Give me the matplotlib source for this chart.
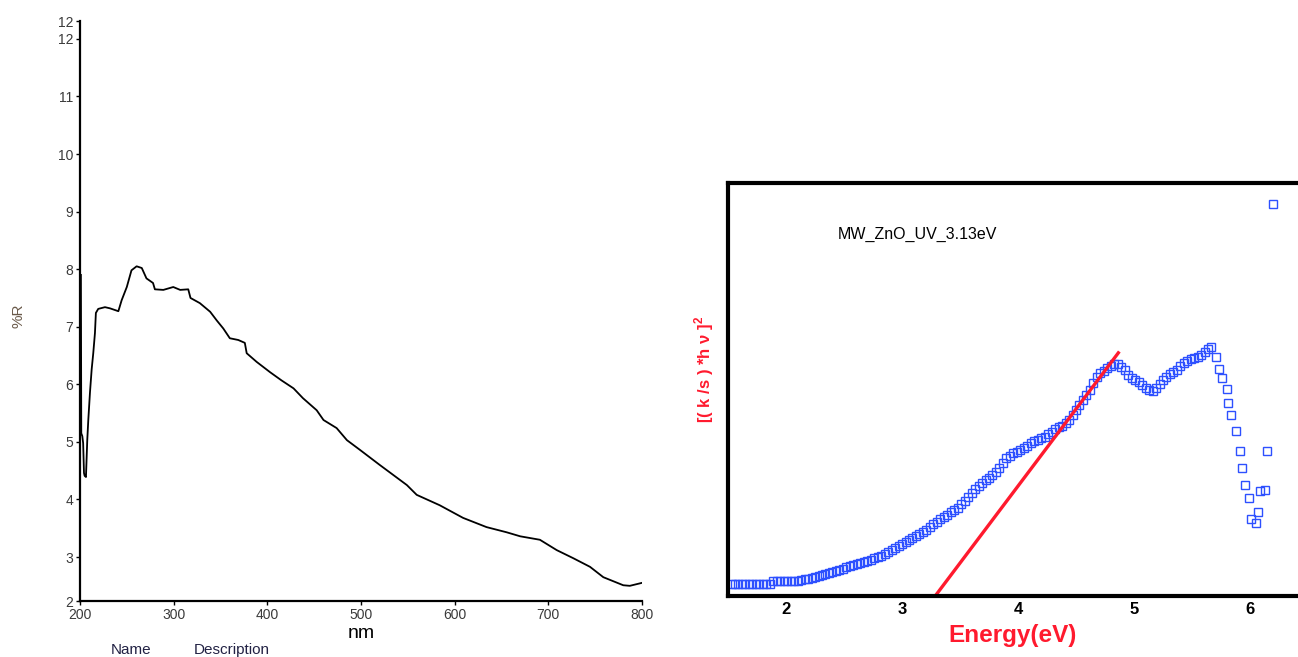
import matplotlib.pyplot as plt

plt.rcParams['font.family'] = ['Liberation Sans', 'DejaVu Sans']
plt.rcParams['mathtext.fontset'] = 'custom'
plt.rcParams['mathtext.rm'] = 'Liberation Sans:bold'
plt.rcParams['mathtext.bf'] = 'Liberation Sans:bold'

# Reflectance spectrum (%R vs wavelength)
wavelength_nm = [201, 201.4, 202.5, 203.4, 204.3, 205, 206.4, 207.8, 208.9, 210.7, 212.5, 214.2,
                 216, 217, 219.5, 226.7, 232, 241, 244.5, 250, 255, 260.5, 266, 271,
                 278, 280, 289, 299.6, 307, 315.6, 318, 328, 339, 346, 353, 360, 369,
                 376, 378, 388.6, 403, 415, 428, 438, 452.7, 460, 474, 485, 499, 520,
                 549, 559.5, 584, 609, 634, 655.5, 670, 691, 709, 726.6, 744.5, 758.7,
                 780, 787, 799.6]
reflectance = [7.9, 5.15, 5.1, 4.98, 4.46, 4.41, 4.39, 5.03, 5.38, 5.86, 6.26, 6.54,
               6.89, 7.24, 7.31, 7.34, 7.32, 7.27, 7.46, 7.69, 7.98, 8.05, 8.02, 7.84,
               7.76, 7.65, 7.64, 7.69, 7.64, 7.65, 7.5, 7.41, 7.26, 7.11, 6.97, 6.8, 6.77,
               6.72, 6.54, 6.39, 6.21, 6.07, 5.93, 5.76, 5.55, 5.38, 5.24, 5.03, 4.86, 4.6,
               4.25, 4.08, 3.9, 3.68, 3.52, 3.43, 3.36, 3.3, 3.12, 2.98, 2.83, 2.65,
               2.51, 2.5, 2.55]
r_ticks = [2.236, 3, 4, 5, 6, 7, 8, 9, 10, 11, 12, 12.31]
r_tick_labels = ['2', '3', '4', '5', '6', '7', '8', '9', '10', '11', '12', '12']
nm_ticks = [200, 300, 400, 500, 600, 700, 800]

# Tauc plot: [(k/s)*hv]^2 vs photon energy
energy_ev = [1.53, 1.56, 1.59, 1.62, 1.65, 1.68, 1.71, 1.74, 1.77, 1.80, 1.83, 1.86,
             1.89, 1.92, 1.95, 1.98, 2.01, 2.04, 2.07, 2.10, 2.13, 2.16, 2.19, 2.22,
             2.25, 2.28, 2.31, 2.34, 2.37, 2.40, 2.43, 2.46, 2.49, 2.52, 2.55, 2.58,
             2.61, 2.64, 2.67, 2.70, 2.73, 2.76, 2.79, 2.82, 2.85, 2.88, 2.91, 2.94,
             2.97, 3.00, 3.03, 3.06, 3.09, 3.12, 3.15, 3.18, 3.21, 3.24, 3.27, 3.30,
             3.33, 3.36, 3.39, 3.42, 3.45, 3.48, 3.51, 3.54, 3.57, 3.60, 3.63, 3.66,
             3.69, 3.72, 3.75, 3.78, 3.81, 3.84, 3.87, 3.90, 3.93, 3.96, 3.99, 4.02,
             4.05, 4.08, 4.11, 4.14, 4.17, 4.20, 4.23, 4.26, 4.29, 4.32, 4.35, 4.38,
             4.41, 4.44, 4.47, 4.50, 4.53, 4.56, 4.59, 4.62, 4.65, 4.68, 4.71, 4.74,
             4.77, 4.80, 4.83, 4.86, 4.89, 4.92, 4.95, 4.98, 5.01, 5.04, 5.07, 5.10,
             5.13, 5.16, 5.19, 5.22, 5.25, 5.28, 5.31, 5.34, 5.37, 5.40, 5.43, 5.46,
             5.49, 5.52, 5.55, 5.58, 5.61, 5.64, 5.66, 5.71, 5.73, 5.76, 5.80, 5.81,
             5.84, 5.88, 5.91, 5.93, 5.96, 5.99, 6.01, 6.05, 6.07, 6.09, 6.13, 6.15,
             6.20]
tauc = [0.90, 0.90, 0.90, 0.90, 0.90, 0.90, 0.90, 0.90, 0.90, 0.90, 0.90, 0.90,
        0.98, 0.98, 0.98, 0.98, 0.98, 0.98, 0.98, 0.98, 1.00, 1.02, 1.03, 1.05,
        1.07, 1.10, 1.12, 1.15, 1.17, 1.20, 1.22, 1.25, 1.28, 1.32, 1.34, 1.37,
        1.39, 1.42, 1.45, 1.48, 1.51, 1.55, 1.58, 1.61, 1.65, 1.69, 1.75, 1.81,
        1.86, 1.91, 1.96, 2.01, 2.06, 2.11, 2.16, 2.21, 2.25, 2.32, 2.39, 2.46,
        2.52, 2.57, 2.63, 2.69, 2.75, 2.81, 2.90, 2.98, 3.07, 3.17, 3.28, 3.36,
        3.43, 3.49, 3.56, 3.62, 3.70, 3.79, 3.92, 4.04, 4.11, 4.17, 4.21, 4.25,
        4.29, 4.36, 4.42, 4.47, 4.51, 4.55, 4.58, 4.64, 4.70, 4.77, 4.82, 4.86,
        4.93, 5.01, 5.12, 5.25, 5.37, 5.50, 5.63, 5.76, 5.92, 6.08, 6.17, 6.23,
        6.29, 6.34, 6.39, 6.41, 6.32, 6.24, 6.13, 6.06, 6.00, 5.94, 5.87, 5.81,
        5.74, 5.73, 5.80, 5.90, 5.99, 6.07, 6.15, 6.19, 6.26, 6.35, 6.42, 6.48,
        6.53, 6.55, 6.57, 6.63, 6.69, 6.77, 6.83, 6.58, 6.28, 6.06, 5.78, 5.42,
        5.13, 4.73, 4.23, 3.81, 3.38, 3.06, 2.53, 2.42, 2.69, 3.23, 3.25, 4.23,
        10.40]
ev_ticks = [2, 3, 4, 5, 6]

# linear fit of the absorption edge, intercept at the band gap
band_gap = 3.13
fit_slope = 3.85
fit_end = 4.865

fig = plt.figure(figsize=(12.98, 6.57), dpi=100)

# --- left panel: reflectance ---
ax1 = fig.add_axes([0.0616, 0.0852, 0.4330, 0.8828])
ax1.plot(wavelength_nm, reflectance, color='black', linewidth=1.3)
ax1.set_xlim(200, 800)
ax1.set_ylim(2.236, 12.31)
ax1.set_xticks(nm_ticks)
ax1.set_xticklabels([str(t) for t in nm_ticks])
ax1.set_yticks(r_ticks)
ax1.set_yticklabels(r_tick_labels)
for side in ['top', 'right']:
    ax1.spines[side].set_visible(False)
for side in ['left', 'bottom']:
    ax1.spines[side].set_linewidth(1.6)
ax1.tick_params(length=3, width=1, labelsize=10, labelcolor='#3a3a3a', pad=2)
ax1.set_xlabel('nm', fontsize=14, labelpad=2)
fig.text(0.014, 0.52, '%R', rotation=90, fontsize=11, color='#6a5a4a',
         ha='center', va='center')
fig.text(0.085, 0.004, 'Name', fontsize=11, color='#222244')
fig.text(0.149, 0.004, 'Description', fontsize=11, color='#222244')

# --- right panel: Tauc plot ---
ax2 = fig.add_axes([0.5609, 0.0928, 0.4391, 0.6286])
ax2.plot(energy_ev, tauc, linestyle='none', marker='s', markersize=6,
         markerfacecolor='none', markeredgecolor='#2d50ff', markeredgewidth=1.0)
ax2.plot([band_gap, fit_end], [0, fit_slope * (fit_end - band_gap)],
         color='#ff1a2e', linewidth=2.4)
ax2.set_xlim(1.5, 6.414)
ax2.set_ylim(0.6, 10.925)
ax2.set_xticks(ev_ticks)
ax2.set_xticklabels([str(t) for t in ev_ticks], fontweight='bold')
ax2.set_yticks([])
ax2.spines['right'].set_visible(False)
for side in ['left', 'top', 'bottom']:
    ax2.spines[side].set_linewidth(3)
ax2.tick_params(axis='x', length=0, labelsize=12, pad=4)
ax2.set_xlabel('Energy(eV)', fontsize=17.5, fontweight='bold', color='#ff1a2e',
               labelpad=5)
fig.text(0.5425, 0.437, r'[( k /s ) *h ν ]$^{2}$', rotation=90, fontsize=12,
         fontweight='bold', color='#ff1a2e', ha='center', va='center')
ax2.text(0.193, 0.875, 'MW_ZnO_UV_3.13eV', transform=ax2.transAxes,
         fontsize=11.5, color='black', va='center')

fig.savefig('out.png', dpi=100)
